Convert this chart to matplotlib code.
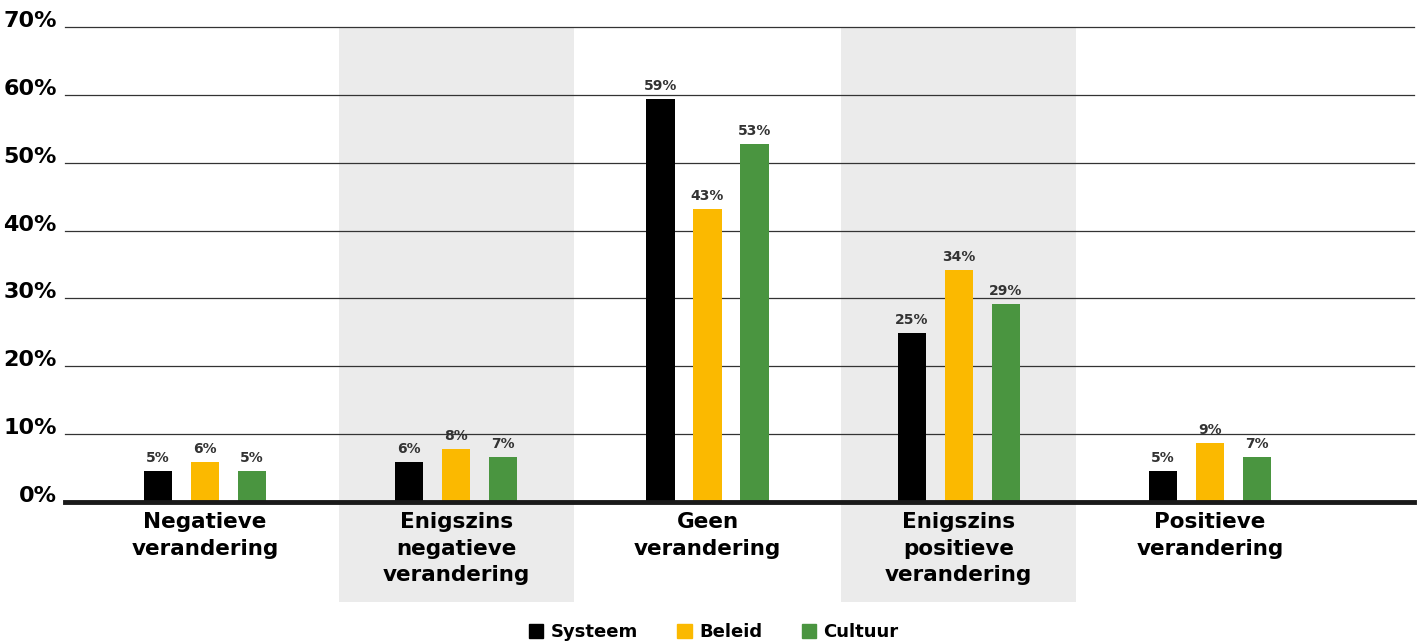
import numpy as np
import matplotlib.pyplot as plt
import matplotlib.patches as mpatches
from matplotlib.transforms import blended_transform_factory

# Data
categories = ["Negatieve\nverandering",
              "Enigszins\nnegatieve\nverandering",
              "Geen\nverandering",
              "Enigszins\npositieve\nverandering",
              "Positieve\nverandering"]
systeem = [4.6, 5.9, 59.4, 24.9, 4.6]
beleid = [5.9, 7.8, 43.2, 34.2, 8.7]
cultuur = [4.6, 6.6, 52.7, 29.2, 6.6]
series_names = ["Systeem", "Beleid", "Cultuur"]
yticks = [0, 10, 20, 30, 40, 50, 60, 70]

COLORS = ["#000000", "#FBB900", "#4A9540"]
FONT = "DejaVu Sans"

fig = plt.figure(figsize=(14.19, 6.43), dpi=100)
ax = fig.add_axes([0.0458, 0.2193, 0.9507, 0.7387])

x = np.arange(len(categories))
width = 0.112
offset = 0.187

# shaded bands behind groups 2 and 4 (extend below axis under labels)
for i in (1, 3):
    ax.add_patch(mpatches.Rectangle((i - 0.468, -14.7), 0.936, 84.7,
                                    facecolor="#EBEBEB", edgecolor="none",
                                    zorder=0, clip_on=False))

# grid lines
for t in yticks[1:]:
    ax.axhline(t, color="#333333", lw=0.9, zorder=1, clip_on=False)
ax.axhline(0, color="#1a1a1a", lw=3.5, zorder=4, clip_on=False)

for k, (vals, c) in enumerate(zip([systeem, beleid, cultuur], COLORS)):
    xs = x + (k - 1) * offset
    ax.bar(xs, vals, width, color=c, zorder=3, label=series_names[k])
    for xi, v in zip(xs, vals):
        ax.text(xi, v + 0.9, f"{round(v)}%", ha="center", va="bottom",
                fontsize=10, fontweight="bold", color="#333333",
                family=FONT, zorder=5)

ax.set_xlim(-0.558, 4.813)
ax.set_ylim(0, 70)
for s in ax.spines.values():
    s.set_visible(False)
ax.set_xticks([])
ax.set_yticks(yticks)
ax.set_yticklabels([f"{t}%" for t in yticks], fontsize=16, fontweight="bold",
                   family=FONT)
ax.tick_params(axis="y", length=0, pad=6)
for lab in ax.get_yticklabels():
    lab.set_va("baseline")

# category labels
tb = blended_transform_factory(ax.transData, ax.transAxes)
for xi, cat in zip(x, categories):
    ax.text(xi, -0.022, cat, transform=tb, ha="center", va="top",
            fontsize=15.5, fontweight="bold", family=FONT, linespacing=1.38)

handles = [mpatches.Patch(color=c, label=n) for c, n in zip(COLORS, series_names)]
fig.legend(handles=handles, loc="lower center", bbox_to_anchor=(0.503, -0.022),
           ncol=3, frameon=False, handlelength=0.8, handleheight=0.8,
           handletextpad=0.4, columnspacing=2.2,
           prop={"family": FONT, "weight": "bold", "size": 13})

fig.savefig("out.png", dpi=100, facecolor="white")
